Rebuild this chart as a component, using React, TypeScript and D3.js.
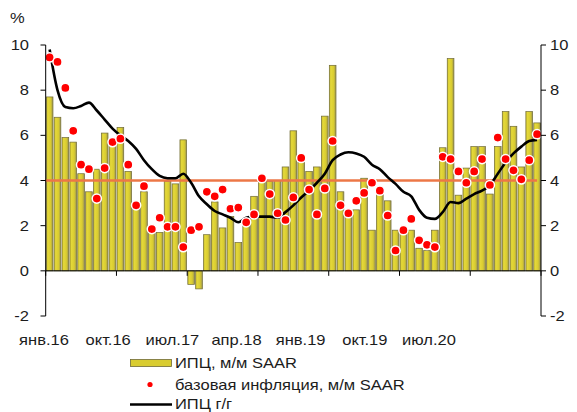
import * as d3 from 'd3';

// monthly, Jan 2016 .. Mar 2021
const months = d3.timeMonth.range(new Date(2016, 0, 1), new Date(2021, 3, 1));

// ИПЦ, м/м SAAR
const cpiMoM = [
  7.7, 6.8, 5.9, 5.7, 4.3, 3.5, 4.5, 6.1, 5.8, 6.35, 4.4, 2.8,
  3.5, 1.9, 1.7, 3.95, 3.85, 5.8, -0.6, -0.8, 1.6, 3.05, 1.9, 2.4,
  1.25, 2.1, 3.3, 4.0, 3.95, 4.0, 4.6, 6.2, 4.8, 4.4, 4.6, 6.85,
  9.1, 3.5, 2.65, 2.7, 4.1, 1.8, 3.4, 3.1, 1.8, 1.7, 1.8, 1.0,
  0.9, 1.8, 5.45, 9.4, 3.35, 4.55, 5.5, 5.5, 3.4, 5.5, 7.05, 6.4,
  4.6, 7.05, 6.55,
];

// базовая инфляция, м/м SAAR
const coreMoM = [
  9.45, 9.25, 8.1, 6.2, 4.7, 4.5, 3.2, 4.55, 5.7, 5.85, 4.7, 2.9,
  3.75, 1.85, 2.35, 1.95, 1.95, 1.05, 1.8, 1.95, 3.5, 3.3, 3.6, 2.75,
  2.8, 2.15, 2.5, 4.1, 3.4, 2.55, 2.25, 3.25, 5.0, 3.6, 2.5, 3.65,
  5.75, 2.9, 2.55, 3.1, 3.45, 3.9, 3.55, 2.45, 0.9, 1.8, 2.3, 1.35,
  1.15, 1.05, 5.05, 4.95, 4.4, 3.9, 4.4, 4.95, 3.8, 5.9, 4.95, 4.45,
  4.05, 4.9, 6.05,
];

// ИПЦ г/г
const cpiYoY = [
  9.8, 8.0, 7.25, 7.2, 7.3, 7.45, 7.1, 6.7, 6.3, 6.0, 5.75, 5.4,
  4.9, 4.5, 4.2, 4.1, 4.1, 4.3, 3.9, 3.3, 2.95, 2.65, 2.5, 2.35,
  2.15, 2.35, 2.4, 2.4, 2.4, 2.35, 2.6, 2.9, 3.25, 3.55, 3.9, 4.3,
  4.9, 5.15, 5.25, 5.2, 5.05, 4.7, 4.5, 4.15, 3.85, 3.5, 3.3, 2.7,
  2.35, 2.3, 2.6, 3.05, 3.0, 3.2, 3.4, 3.55, 3.8, 4.3, 4.8, 5.2,
  5.5, 5.75, 5.8,
];

const target = 4;

const tickLabels = ['янв.16', 'окт.16', 'июл.17', 'апр.18', 'янв.19', 'окт.19', 'июл.20'];
const legendLabels = ['ИПЦ, м/м SAAR', 'базовая инфляция, м/м SAAR', 'ИПЦ г/г'];

const W = 577;
const H = 412;
const FONT = '"Liberation Sans", Arial, sans-serif';
const STRETCH = 1.18; // the source text is a bit wider than the font

// text with horizontal stretch around its anchor point
function T({ x, y, anchor = 'start', dy, children }: any) {
  return (
    <text transform={`translate(${x},${y}) scale(${STRETCH},1)`} textAnchor={anchor} dy={dy}
      fontSize={14} fill="#1c1c1c">{children}</text>
  );
}

export default function App() {
  const idx = months.map((_, i) => i);
  const x = d3.scaleBand<number>()
    .domain(idx)
    .range([45.7, 541])
    .paddingInner(0.15)
    .paddingOuter(0.075);
  const step = x.step();
  const x0 = x.range()[0];
  const cx = (i: number) => (x(i) as number) + x.bandwidth() / 2;

  const y = d3.scaleLinear().domain([-2, 10]).range([316, 45]);
  const yTicks = y.ticks(6);

  const labelX = d3.scalePoint<string>().domain(tickLabels).range([44, 429]);

  const line = d3.line<number>()
    .x((_, i) => cx(i))
    .y((d) => y(d))
    .curve(d3.curveMonotoneX);

  const tickIdx = d3.range(0, months.length + 1, 9);

  return (
    <svg width={W} height={H} style={{ position: 'absolute', left: 0, top: 0, background: '#fff' }}
      fontFamily={FONT}>
      <defs>
        <linearGradient id="barGrad" x1="0" x2="1" y1="0" y2="0">
          <stop offset="0%" stopColor="#c9bd2c" />
          <stop offset="25%" stopColor="#e4d83a" />
          <stop offset="65%" stopColor="#d9cc30" />
          <stop offset="100%" stopColor="#9d9650" />
        </linearGradient>
      </defs>

      {/* bars */}
      {cpiMoM.map((v, i) => (
        <rect key={'b' + i}
          x={x(i)}
          y={Math.min(y(v), y(0))}
          width={x.bandwidth()}
          height={Math.abs(y(v) - y(0))}
          fill="url(#barGrad)"
          stroke="#6f6a35"
          strokeWidth={0.7} />
      ))}

      {/* x axis at zero */}
      <line x1={x0} x2={541} y1={y(0)} y2={y(0)} stroke="#000" strokeWidth={1} />
      {tickIdx.map((k) => (
        <line key={'xt' + k} x1={x0 + k * step} x2={x0 + k * step} y1={y(0)} y2={y(0) + 5}
          stroke="#000" strokeWidth={1} />
      ))}

      {/* target line */}
      <line x1={x0} x2={x0 + step * (months.length - 0.5)} y1={y(target)} y2={y(target)}
        stroke="#ec7747" strokeWidth={2.5} />

      {/* yoy line */}
      <path d={line(cpiYoY) ?? ''} fill="none" stroke="#000" strokeWidth={2.6} strokeLinejoin="round" />

      {/* core dots */}
      {coreMoM.map((v, i) => (
        <circle key={'c' + i} cx={cx(i)} cy={y(v)} r={4.6} fill="#ff0000" stroke="#fff" strokeWidth={1.5} />
      ))}

      {/* left axis */}
      <line x1={45.7} x2={45.7} y1={y(-2)} y2={y(10)} stroke="#000" strokeWidth={1} />
      {yTicks.map((t) => (
        <g key={'yl' + t}>
          <line x1={40.5} x2={45.7} y1={y(t)} y2={y(t)} stroke="#000" strokeWidth={1} />
          <T x={29} y={y(t)} dy="0.36em" anchor="end">{t}</T>
        </g>
      ))}
      <T x={10} y={23}>%</T>

      {/* right axis */}
      <line x1={541} x2={541} y1={y(-2)} y2={y(10)} stroke="#000" strokeWidth={1} />
      {yTicks.map((t) => (
        <g key={'yr' + t}>
          <line x1={541} x2={546} y1={y(t)} y2={y(t)} stroke="#000" strokeWidth={1} />
          <T x={550} y={y(t)} dy="0.36em">{t}</T>
        </g>
      ))}

      {/* month labels */}
      {tickLabels.map((l) => (
        <T key={l} x={labelX(l)} y={345} anchor="middle">{l}</T>
      ))}

      {/* legend */}
      <rect x={130.5} y={359.5} width={41} height={7} fill="#d9cc30" stroke="#6f6a35" strokeWidth={0.8} />
      <T x={175} y={368}>{legendLabels[0]}</T>
      <circle cx={150} cy={384.5} r={2.6} fill="#ff0000" />
      <T x={175} y={389.5}>{legendLabels[1]}</T>
      <line x1={130} x2={172} y1={404.5} y2={404.5} stroke="#000" strokeWidth={2.6} />
      <T x={175} y={408.5}>{legendLabels[2]}</T>
    </svg>
  );
}
